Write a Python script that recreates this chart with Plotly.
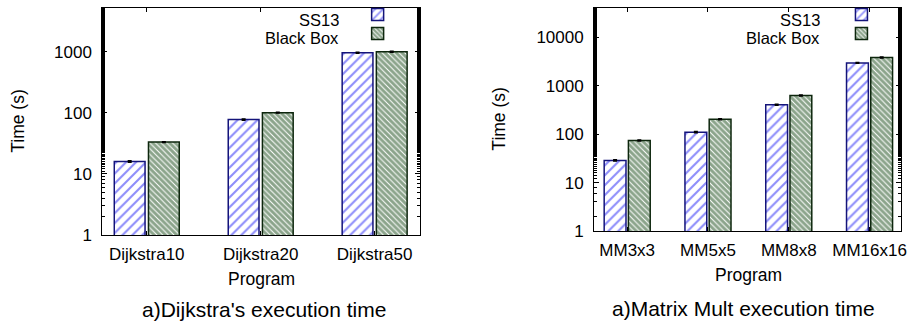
import numpy as np
import plotly.graph_objects as go

# ---- data ----
dijkstra_programs = ["Dijkstra10", "Dijkstra20", "Dijkstra50"]
dijkstra_ss13 = [15.9, 77, 955]
dijkstra_blackbox = [33, 100, 990]
dijkstra_ss13_err = [0.5, 1.5, 20]
dijkstra_blackbox_err = [0.5, 1.5, 20]

mm_programs = ["MM3x3", "MM5x5", "MM8x8", "MM16x16"]
mm_ss13 = [28.7, 110, 405, 2950]
mm_blackbox = [74, 203, 628, 3820]
mm_ss13_err = [0.8, 3, 10, 60]
mm_blackbox_err = [1.5, 5, 12, 80]

ytick_vals_left = [1, 10, 100, 1000]
ytick_vals_right = [1, 10, 100, 1000, 10000]

series_names = ["SS13", "Black Box"]
titles = ["a)Dijkstra's execution time", "a)Matrix Mult execution time"]

FONT = "Liberation Sans, Arial, Helvetica, sans-serif"
BLUE = "#1c1cf5"
BLUE_EDGE = "#14147a"
GREEN = "#174a17"
GREEN_EDGE = "#0d260d"

fig = go.Figure()


def add_pair(xs, s1, s2, e1, e2, xa, ya, legend):
    fig.add_trace(go.Bar(
        x=xs, y=s1, name=" ", hovertext=series_names[0], xaxis=xa, yaxis=ya,
        legend=legend,
        marker=dict(color="white", line=dict(color=BLUE_EDGE, width=1.5),
                    pattern=dict(shape="/", fgcolor=BLUE, bgcolor="white",
                                 size=7, solidity=0.3)),
        error_y=dict(type="data", array=e1, color="black", thickness=1.5, width=2),
    ))
    fig.add_trace(go.Bar(
        x=xs, y=s2, name=" ", hovertext=series_names[1], xaxis=xa, yaxis=ya,
        legend=legend,
        marker=dict(color="white", line=dict(color=GREEN_EDGE, width=1.5),
                    pattern=dict(shape="\\", fgcolor=GREEN, bgcolor="white",
                                 size=4, solidity=0.75)),
        error_y=dict(type="data", array=e2, color="black", thickness=1.5, width=2),
    ))


add_pair(dijkstra_programs, dijkstra_ss13, dijkstra_blackbox,
         dijkstra_ss13_err, dijkstra_blackbox_err, "x", "y", "legend")
add_pair(mm_programs, mm_ss13, mm_blackbox,
         mm_ss13_err, mm_blackbox_err, "x2", "y2", "legend2")

W, H = 915, 331
L1, R1, T1, B1 = 103, 423, 7, 242
L2, R2, T2, B2 = 598, 907, 7, 238


def xdom(a, b):
    return [a / W, b / W]


def ydom(t, b):
    return [1 - b / H, 1 - t / H]


axis_common = dict(
    showline=True, linecolor="black", linewidth=1, mirror="allticks",
    ticks="inside", tickcolor="black", showgrid=False, zeroline=False,
    tickfont=dict(family=FONT, size=17, color="black"),
)

yax_common = dict(axis_common, type="log", ticklen=5, tickwidth=1,
                  minor=dict(ticks="inside", ticklen=3, tickcolor="black",
                             showgrid=False),
                  ticklabelstandoff=6)

legend_common = dict(xanchor="left", yanchor="top", y=1 + 1 / H,
                     bgcolor="rgba(0,0,0,0)",
                     font=dict(family=FONT, size=11, color="rgba(0,0,0,0)"),
                     itemwidth=30, tracegroupgap=0)

fig.update_layout(
    width=W, height=H, autosize=False, margin=dict(l=0, r=0, t=0, b=0),
    paper_bgcolor="white", plot_bgcolor="white",
    barmode="group", bargap=0.4, bargroupgap=0.1,
    font=dict(family=FONT, size=17.5, color="black"),
    showlegend=True,
    xaxis=dict(axis_common, domain=xdom(L1, R1), anchor="y",
               range=[-0.39, 2.40], ticklen=4, ticklabelstandoff=4),
    yaxis=dict(yax_common, domain=ydom(T1, B1), anchor="x",
               range=[0, np.log10(5200)], tickvals=ytick_vals_left,
               ticktext=[str(v) for v in ytick_vals_left]),
    xaxis2=dict(axis_common, domain=xdom(L2, R2), anchor="y2",
                range=[-0.41, 3.39], ticklen=4, ticklabelstandoff=4),
    yaxis2=dict(yax_common, domain=ydom(T2, B2), anchor="x2",
                range=[0, np.log10(40500)], tickvals=ytick_vals_right,
                ticktext=[str(v) for v in ytick_vals_right]),
    legend=dict(legend_common, x=360 / W),
    legend2=dict(legend_common, x=847 / W),
)

ann = []
# axis titles
ann.append(dict(text="Time (s)", x=18 / W, y=1 - 124 / H, textangle=-90))
ann.append(dict(text="Time (s)", x=502 / W, y=1 - 122 / H, textangle=-90))
ann.append(dict(text="Program", x=263 / W, y=1 - 288 / H))
ann.append(dict(text="Program", x=753 / W, y=1 - 283 / H))
# subtitles
ann.append(dict(text=titles[0], x=266 / W, y=1 - 319 / H, font=dict(size=21)))
ann.append(dict(text=titles[1], x=748 / W, y=1 - 318 / H, font=dict(size=21)))
# legend labels
for lx, rows in ((342, (19.5, 38.5)), (826, (19.5, 38.5))):
    for name, ry in zip(series_names, rows):
        ann.append(dict(text=name, x=lx / W, y=1 - ry / H, xanchor="right",
                        height=18, borderpad=0, font=dict(size=16.5)))

for a in ann:
    a.setdefault("xanchor", "center")
    a.update(xref="paper", yref="paper", showarrow=False, yanchor="middle")
    f = dict(family=FONT, size=17.5, color="black")
    f.update(a.get("font", {}))
    a["font"] = f
fig.update_layout(annotations=ann)

page_css = (
    "var de=document.documentElement, b=document.body;"
    "de.style.margin='0'; de.style.padding='0';"
    "de.style.height='331px'; de.style.overflow='hidden';"
    "b.style.margin='0'; b.style.padding='0';"
    "b.style.height='331px'; b.style.overflow='hidden';"
)

fig.write_html("out.html",
               config={"displayModeBar": False, "responsive": False},
               post_script=page_css)
